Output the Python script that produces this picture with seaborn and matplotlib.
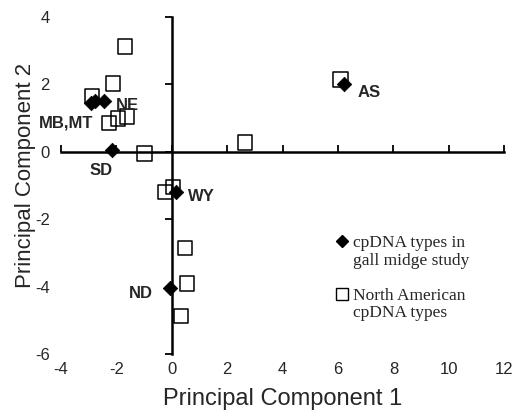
import matplotlib
matplotlib.use("Agg")
import matplotlib.pyplot as plt
import seaborn as sns
import pandas as pd
from matplotlib.lines import Line2D

# ---- data ----
study_names = ["AS", "MB", "MT", "NE", "SD", "WY", "ND"]
study_pc1 = [6.2, -2.9, -2.75, -2.45, -2.15, 0.15, -0.05]
study_pc2 = [2.0, 1.45, 1.5, 1.5, 0.05, -1.2, -4.05]

na_pc1 = [6.1, 2.65, -1.68, -2.12, -2.87, -2.26, -1.94, -1.61, -0.98, -0.24, 0.05, 0.48, 0.55, 0.34]
na_pc2 = [2.15, 0.27, 3.12, 2.02, 1.65, 0.86, 0.98, 1.04, -0.05, -1.19, -1.04, -2.85, -3.9, -4.87]

point_labels = ["AS", "NE", "MB,MT", "SD", "WY", "ND"]
label_anchor = ["AS", "NE", "MB", "SD", "WY", "ND"]
label_offset_px = [(14, -8), (12, -4), (2, -20), (-11, -20), (12, -4), (-17, -5)]
label_ha = ["left", "left", "right", "center", "left", "right"]

x_ticks = [-4, -2, 0, 2, 4, 6, 8, 10, 12]
y_ticks = [-6, -4, -2, 0, 2, 4]

legend_texts = ["cpDNA types in", "gall midge study", " ", "North American", "cpDNA types"]

study_df = pd.DataFrame({"pc1": study_pc1, "pc2": study_pc2, "name": study_names})
na_df = pd.DataFrame({"pc1": na_pc1, "pc2": na_pc2})

# ---- style ----
sns.set_style("white")
plt.rcParams["font.family"] = ["Liberation Sans", "DejaVu Sans"]

fig = plt.figure(figsize=(5.16, 4.12), dpi=100)
ax = fig.add_axes([60.8 / 516, 1 - 354 / 412, 443.5 / 516, 337 / 412])

sns.scatterplot(data=na_df, x="pc1", y="pc2", ax=ax, marker="s", s=110,
                color="black", facecolor="none", edgecolor="black",
                linewidth=1.1, zorder=3)
sns.scatterplot(data=study_df, x="pc1", y="pc2", ax=ax, marker="D", s=55,
                color="black", edgecolor="black", linewidth=0.5, zorder=4)

ax.set_xlim(-4, 12)
ax.set_ylim(-6, 4)

# crossing axes through the origin
for side in ["top", "right"]:
    ax.spines[side].set_visible(False)
for side in ["left", "bottom"]:
    ax.spines[side].set_position(("data", 0))
    ax.spines[side].set_linewidth(1.8)
    ax.spines[side].set_color("black")
ax.set_xticks(x_ticks)
ax.set_yticks(y_ticks)
ax.tick_params(axis="x", which="major", bottom=True, top=False, direction="in",
               length=5, width=1.3, color="black", labelbottom=False)
ax.tick_params(axis="y", which="major", left=True, right=False, direction="out",
               length=5, width=1.3, color="black", labelleft=False)
ax.set_xlabel("")
ax.set_ylabel("")

# tick labels at the frame edges
secx = ax.secondary_xaxis("bottom")
secx.set_xticks(x_ticks)
secx.set_xticklabels([str(t) for t in x_ticks])
secx.tick_params(length=0, pad=6, labelsize=12)
secx.spines["bottom"].set_visible(False)
secx.set_xlabel("Principal Component 1", fontsize=17, labelpad=8)

secy = ax.secondary_yaxis("left")
secy.set_yticks(y_ticks)
secy.set_yticklabels([str(t) for t in y_ticks])
secy.tick_params(length=0, pad=8, labelsize=12)
secy.spines["left"].set_visible(False)
secy.set_ylabel("Principal Component 2", fontsize=16, labelpad=-1)
secy.yaxis.label.set_y(0.53)

# point labels
name_to_xy = dict(zip(study_names, zip(study_pc1, study_pc2)))
for txt, anc, off, ha in zip(point_labels, label_anchor, label_offset_px, label_ha):
    ax.annotate(txt, xy=name_to_xy[anc], xytext=off, textcoords="offset pixels",
                ha=ha, va="center", fontsize=12, fontweight="bold", zorder=5)

# legend
handles = [
    Line2D([], [], linestyle="none", marker="D", markersize=6, color="black"),
    Line2D([], [], linestyle="none", marker=None),
    Line2D([], [], linestyle="none", marker=None),
    Line2D([], [], linestyle="none", marker="s", markersize=8.5,
           markerfacecolor="none", markeredgecolor="black", markeredgewidth=1.0),
    Line2D([], [], linestyle="none", marker=None),
]
ax.legend(handles, legend_texts, loc="upper left",
          bbox_to_anchor=((336 - 60.8) / 443.5, (354 - 235) / 337),
          frameon=False, handlelength=0.7, handletextpad=0.3, borderpad=0,
          borderaxespad=0, labelspacing=0.08,
          prop={"family": "Liberation Serif", "size": 12.5})

fig.savefig("out.png", dpi=100, facecolor="white")
